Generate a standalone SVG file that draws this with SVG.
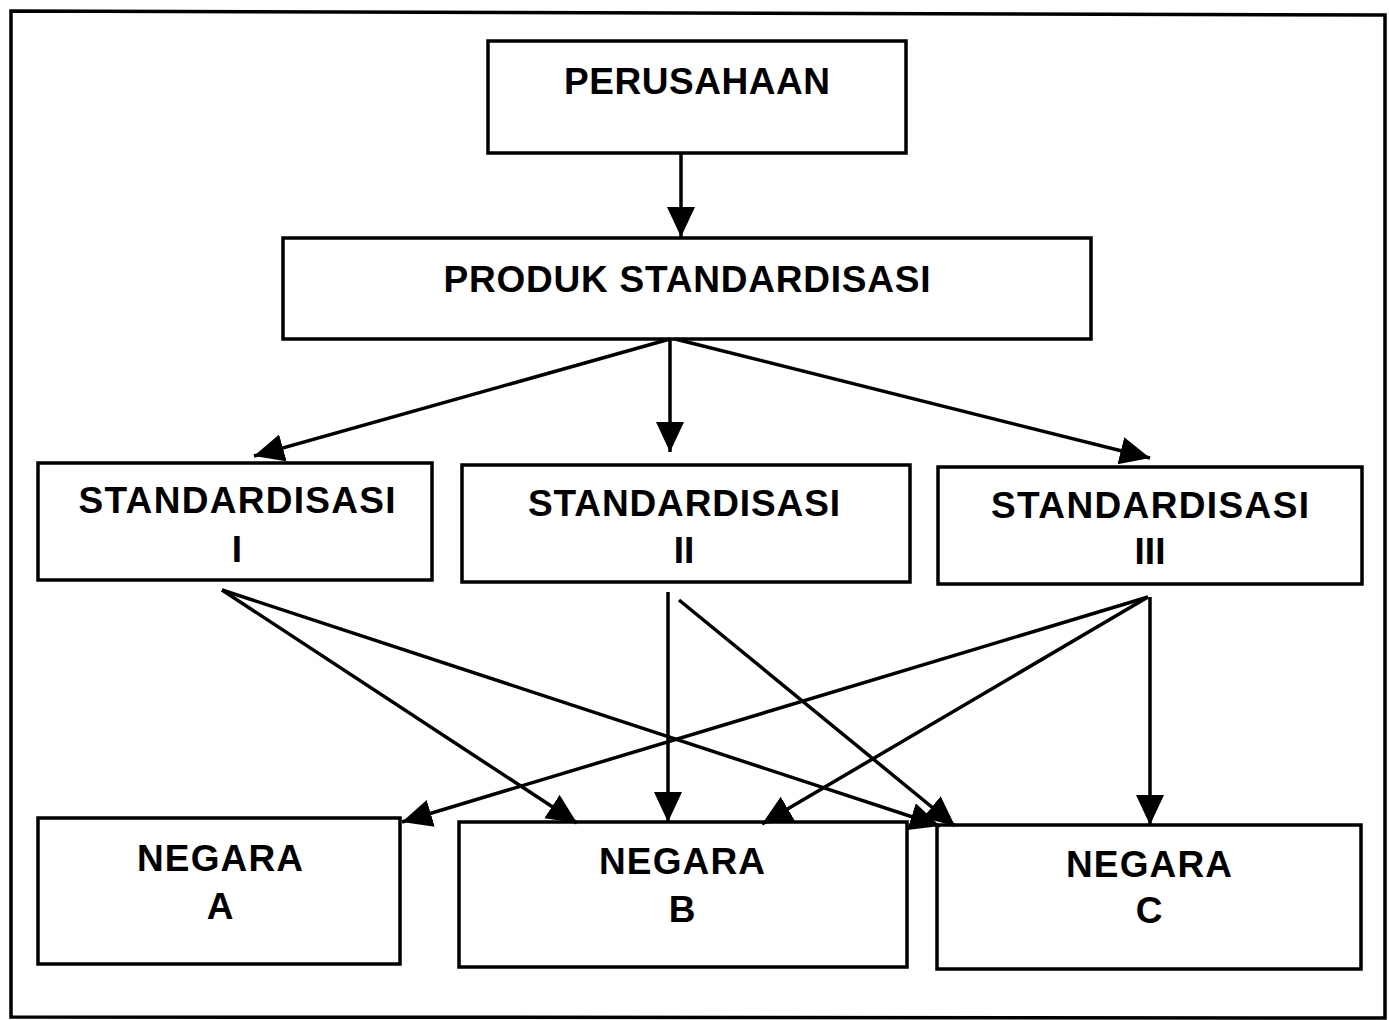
<svg xmlns="http://www.w3.org/2000/svg" width="1389" height="1020" viewBox="0 0 1389 1020">
<style>
.box{fill:#fff;stroke:#000;stroke-width:3.5}
.t{font-family:"Liberation Sans",Arial,sans-serif;font-weight:bold;font-size:37px;fill:#000;text-anchor:middle}
.c{stroke:#000;stroke-width:3.5;fill:none;marker-end:url(#ah)}
</style>
<defs>
<marker id="ah" markerUnits="userSpaceOnUse" markerWidth="32" markerHeight="30" refX="30" refY="14" orient="auto" viewBox="0 0 32 30">
<path d="M0,0 L30,14 L0,28 z" fill="#000"/>
</marker>
</defs>
<rect width="1389" height="1020" fill="#fff"/>
<path d="M11,11 L1385,15 L1385,1018 L11,1017 Z" fill="none" stroke="#000" stroke-width="3.5"/>
<g id="perusahaan"><rect class="box" x="488" y="41" width="418" height="112"/><text class="t" x="697" y="94" textLength="266" lengthAdjust="spacing">PERUSAHAAN</text></g>
<g id="produk"><rect class="box" x="283" y="238" width="808" height="101"/><text class="t" x="687" y="292" textLength="487" lengthAdjust="spacing">PRODUK STANDARDISASI</text></g>
<g id="std1"><rect class="box" x="38" y="463" width="394" height="117"/><text class="t" x="237" y="513" textLength="317" lengthAdjust="spacing">STANDARDISASI</text><text class="t" x="237" y="562">I</text></g>
<g id="std2"><rect class="box" x="462" y="465" width="448" height="117"/><text class="t" x="684" y="516" textLength="312" lengthAdjust="spacing">STANDARDISASI</text><text class="t" x="684" y="563">II</text></g>
<g id="std3"><rect class="box" x="938" y="467" width="424" height="117"/><text class="t" x="1150" y="518" textLength="318" lengthAdjust="spacing">STANDARDISASI</text><text class="t" x="1150" y="564">III</text></g>
<g id="negaraA"><rect class="box" x="38" y="818" width="362" height="146"/><text class="t" x="220" y="871" textLength="166" lengthAdjust="spacing">NEGARA</text><text class="t" x="220" y="919">A</text></g>
<g id="negaraB"><rect class="box" x="459" y="822" width="448" height="145"/><text class="t" x="682" y="874" textLength="166" lengthAdjust="spacing">NEGARA</text><text class="t" x="682" y="922">B</text></g>
<g id="negaraC"><rect class="box" x="937" y="825" width="424" height="144"/><text class="t" x="1149" y="877" textLength="166" lengthAdjust="spacing">NEGARA</text><text class="t" x="1149" y="923">C</text></g>
<g id="connectors">
<line class="c" x1="681" y1="153" x2="681" y2="237"/>
<line class="c" x1="670" y1="339" x2="254" y2="456"/>
<line class="c" x1="670" y1="339" x2="670" y2="452"/>
<line class="c" x1="675" y1="339" x2="1150" y2="458"/>
<line class="c" x1="222" y1="590" x2="577" y2="823"/>
<line class="c" x1="222" y1="590" x2="940" y2="826"/>
<line class="c" x1="668" y1="592" x2="668" y2="822"/>
<line class="c" x1="679" y1="600" x2="955" y2="826"/>
<line class="c" x1="1148" y1="597" x2="402" y2="822"/>
<line class="c" x1="1148" y1="597" x2="762" y2="824"/>
<line class="c" x1="1150" y1="597" x2="1150" y2="825"/>
</g>
</svg>
